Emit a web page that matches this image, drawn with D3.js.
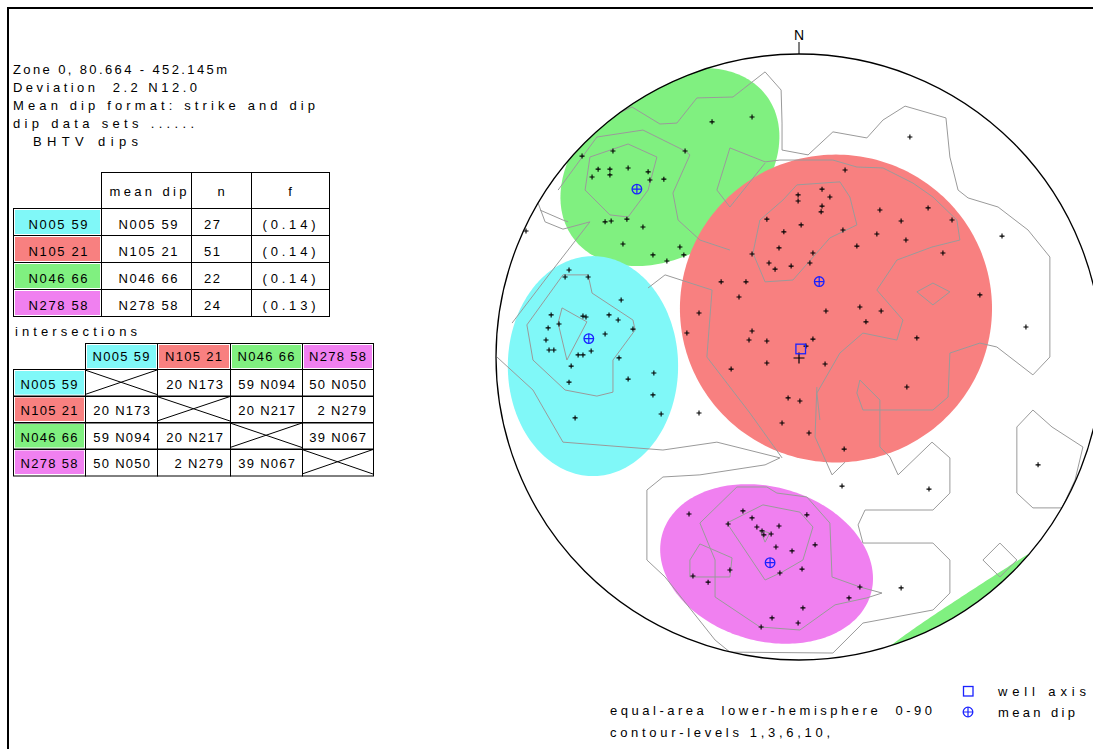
<!DOCTYPE html>
<html>
<head>
<meta charset="utf-8">
<script src="https://cdn.jsdelivr.net/npm/d3@7"></script>
<style>
  html, body { margin: 0; padding: 0; background: #fff; }
  svg { display: block; }
  text { font-family: "Liberation Sans", Arial, sans-serif; font-size: 13px; fill: #000; white-space: pre; }
</style>
</head>
<body>
<svg id="chart" width="1093" height="749"></svg>
<script>
// ---------------- data ----------------
const headerLines = ["Zone 0, 80.664 - 452.145m", "Deviation  2.2 N12.0", "Mean dip format: strike and dip", "dip data sets ......", "BHTV dips"];

const setLabels = ["N005 59", "N105 21", "N046 66", "N278 58"];
const setStrikes = [5, 105, 46, 278];
const setDips = [59, 21, 66, 58];
const setCounts = [27, 51, 22, 24];
const setFractions = ["(0.14)", "(0.14)", "(0.14)", "(0.13)"];

const intersections = [
  [null, "20 N173", "59 N094", "50 N050"],
  ["20 N173", null, "20 N217", "2 N279"],
  ["59 N094", "20 N217", null, "39 N067"],
  ["50 N050", "2 N279", "39 N067", null]
];

const wellInclination = 2.2;
const wellAzimuth = 12.0;
const contourLevels = [1, 3, 6, 10];

// cluster envelopes per set: [east, north, semi-axis 1, semi-axis 2, rotation deg], in net radii
const setEnvelopes = [
  [-0.680, -0.030, 0.281, 0.363, 0],
  [0.122, 0.160, 0.515, 0.508, 0],
  [-0.426, 0.627, 0.396, 0.284, 36],
  [-0.107, -0.683, 0.358, 0.254, -16]
];

// poles to planes, equal-area lower hemisphere, [east, north] in net radii
const poles = [
  [-0.287,0.776],[-0.155,0.792],[-0.614,0.680],[-0.716,0.663],[-0.663,0.620],[-0.624,0.620],[-0.564,0.624],[-0.498,0.611],
  [-0.683,0.594],[-0.624,0.601],[-0.492,0.584],[-0.446,0.587],[-0.640,0.446],[-0.620,0.449],[-0.568,0.455],[-0.515,0.429],
  [-0.581,0.373],[-0.393,0.363],[-0.482,0.337],[-0.436,0.317],[-0.380,0.337],[-0.376,0.680],[-0.901,0.416],
  [0.152,0.617],[-0.003,0.535],[-0.003,0.515],[0.076,0.554],[0.102,0.528],[0.076,0.498],[0.073,0.479],[0.267,0.485],
  [0.426,0.492],[0.337,0.449],[0.505,0.452],[-0.106,0.455],[-0.050,0.413],[0.007,0.436],[0.145,0.419],[0.257,0.406],
  [0.353,0.386],[0.191,0.366],[-0.066,0.360],[-0.155,0.340],[0.046,0.343],[-0.099,0.310],[-0.079,0.290],[-0.026,0.300],
  [0.036,0.310],[0.475,0.343],[-0.257,0.248],[-0.175,0.248],[-0.198,0.198],[-0.330,0.145],[0.089,0.152],[0.201,0.165],
  [0.271,0.152],[0.221,0.116],[-0.370,0.079],[-0.155,0.086],[-0.165,0.056],[-0.106,0.053],[0.046,0.059],[0.023,0.036],
  [-0.106,-0.020],[0.086,-0.023],[-0.224,-0.040],[-0.036,-0.135],[0.003,-0.145],[0.389,0.063],[0.356,-0.099],[0.597,0.205],
  [-0.056,-0.218],[0.033,-0.251],[0.149,-0.304],
  [0.366,0.726],[0.670,0.399],[0.749,0.099],[0.789,-0.356],[-0.330,-0.185],[0.142,-0.426],[0.429,-0.436],[0.337,-0.762],
  [-0.759,0.287],[-0.772,0.264],[-0.696,0.264],[-0.587,0.188],[-0.818,0.139],[-0.713,0.135],[-0.703,0.132],[-0.627,0.139],
  [-0.597,0.122],[-0.792,0.109],[-0.828,0.096],[-0.548,0.092],[-0.640,0.076],[-0.835,0.056],[-0.825,0.023],[-0.809,0.023],
  [-0.686,0.020],[-0.729,0.007],[-0.713,0.007],[-0.594,-0.003],[-0.752,-0.030],[-0.479,-0.053],[-0.564,-0.073],[-0.759,-0.083],
  [-0.482,-0.125],[-0.739,-0.201],[-0.455,-0.188],
  [-0.363,-0.518],[-0.185,-0.508],[-0.155,-0.531],[0.026,-0.521],[-0.234,-0.551],[-0.139,-0.561],[-0.066,-0.558],[-0.122,-0.574],
  [-0.116,-0.587],[-0.092,-0.584],[-0.076,-0.627],[-0.023,-0.640],[0.053,-0.620],[-0.228,-0.703],[-0.063,-0.713],[0.010,-0.700],
  [-0.350,-0.723],[-0.300,-0.743],[0.201,-0.759],[0.165,-0.795],[0.013,-0.828],[-0.089,-0.861],[-0.003,-0.878],[-0.125,-0.891]
];

// density contour lines (open), net radii
const contourOpen = [
  [[-0.601,0.802],[-0.551,0.825],[-0.459,0.769],[-0.403,0.772],[-0.337,0.855],[-0.218,0.858],[-0.112,0.941],[-0.059,0.881],
   [-0.056,0.772],[-0.056,0.683],[0.030,0.667],[0.112,0.743],[0.224,0.723],[0.277,0.782],[0.350,0.828],[0.485,0.789],
   [0.498,0.660],[0.525,0.551],[0.558,0.525],[0.657,0.495],[0.756,0.419],[0.828,0.330],[0.828,0.000],[0.772,-0.059],
   [0.653,0.033],[0.597,0.046],[0.498,0.013],[0.492,-0.132],[0.442,-0.175],[0.211,-0.175],[0.191,-0.119],[0.201,-0.076]],
  [[-0.795,0.551],[-0.667,0.726],[-0.515,0.749],[-0.376,0.680],[-0.360,0.667],[-0.416,0.541],[-0.399,0.452],[-0.327,0.386],[-0.228,0.353]],
  [[-0.112,0.640],[-0.228,0.495],[-0.271,0.551],[-0.228,0.690],[-0.112,0.644],[-0.063,0.650],[0.112,0.650],[0.191,0.627],
   [0.277,0.624],[0.376,0.574],[0.442,0.528],[0.521,0.452],[0.531,0.386],[0.439,0.363],[0.323,0.320],[0.257,0.221],
   [0.343,0.122],[0.323,0.056],[0.211,0.079],[0.135,0.013],[0.059,-0.119],[0.069,-0.208]],
  [[-0.498,0.228],[-0.442,0.271],[-0.287,0.221],[-0.304,0.000],[-0.162,-0.185],[-0.056,-0.333]],
  [[-0.997,0.000],[-0.878,-0.109],[-0.779,-0.281],[-0.449,-0.307],[-0.271,-0.281],[-0.063,-0.333],[-0.112,-0.356],[-0.327,-0.389],
   [-0.449,-0.396],[-0.502,-0.439],[-0.502,-0.670],[-0.442,-0.726],[-0.277,-0.934],[-0.228,-0.974],[0.112,-0.977],[0.211,-0.878],
   [0.442,-0.835],[0.498,-0.779],[0.498,-0.670],[0.442,-0.614],[0.211,-0.614],[0.195,-0.554],[0.218,-0.505],[0.442,-0.505],
   [0.498,-0.449],[0.498,-0.333],[0.439,-0.281],[0.327,-0.389],[0.300,-0.330],[0.267,-0.297],[0.267,-0.142],[0.201,-0.076]],
  [[0.059,-0.099],[0.053,-0.264],[0.109,-0.389],[0.152,-0.347]],
  [[-0.861,0.508],[-0.838,0.446],[-0.779,0.422],[-0.690,0.446],[-0.818,0.281],[-0.947,0.112]],
  [[-0.855,0.485],[-0.779,0.452],[-0.762,0.446]]
];

// density contour lines (closed), net radii
const contourClosed = [
  [[-0.690,0.660],[-0.564,0.703],[-0.469,0.660],[-0.498,0.551],[-0.564,0.462],[-0.624,0.469],[-0.706,0.551]],
  [[-0.152,0.343],[-0.112,0.248],[-0.020,0.254],[0.102,0.393],[0.191,0.436],[0.168,0.528],[0.135,0.578],[-0.007,0.568],[-0.053,0.518],[-0.129,0.452]],
  [[0.389,0.215],[0.442,0.244],[0.498,0.215],[0.442,0.172]],
  [[-0.779,0.271],[-0.696,0.271],[-0.683,0.211],[-0.548,0.122],[-0.541,0.089],[-0.614,-0.010],[-0.614,-0.116],[-0.667,-0.129],[-0.772,-0.109],[-0.878,-0.010],[-0.898,0.106]],
  [[-0.782,0.162],[-0.700,0.116],[-0.766,-0.010],[-0.795,0.112]],
  [[0.719,-0.231],[0.772,-0.175],[0.835,-0.231],[0.937,-0.297],[0.911,-0.406],[0.868,-0.498],[0.772,-0.498],[0.719,-0.449]],
  [[0.607,-0.670],[0.663,-0.614],[0.719,-0.670],[0.663,-0.726]],
  [[-0.327,-0.548],[-0.205,-0.429],[-0.106,-0.429],[-0.073,-0.449],[0.026,-0.462],[0.102,-0.548],[0.109,-0.726],[0.201,-0.759],
   [0.274,-0.779],[0.224,-0.795],[0.119,-0.818],[0.003,-0.901],[-0.129,-0.891],[-0.277,-0.792],[-0.277,-0.670]],
  [[-0.238,-0.548],[-0.119,-0.488],[0.003,-0.512],[0.046,-0.561],[0.013,-0.670],[-0.056,-0.710],[-0.112,-0.736]],
  [[-0.129,-0.571],[-0.096,-0.581],[-0.112,-0.611]],
  [[-0.360,-0.670],[-0.327,-0.617],[-0.221,-0.663],[-0.228,-0.726],[-0.360,-0.726]]
];

// ---------------- styles / layout ----------------
const setColors = ["#80f8f8", "#f88080", "#80f080", "#f080f0"];
const symbolBlue = "#1a22ff";
const contourGray = "#9a9a9a";

const svg = d3.select("#chart");

function txt(g, x, y, s, opts = {}) {
  const t = g.append("text").attr("x", x).attr("y", y).text(s);
  if (opts.anchor) t.attr("text-anchor", opts.anchor);
  if (opts.width) t.attr("textLength", opts.width).attr("lengthAdjust", "spacing");
  if (opts.size) t.style("font-size", opts.size + "px");
  return t;
}
const px = v => Math.round(v) + 0.5;

// frame
svg.append("path").attr("d", "M8,749V8H1093").attr("fill", "none").attr("stroke", "#000").attr("stroke-width", 2);

// header text
const hdrWidths = [214, 184, 302, 181, 105];
const hdrX = [13, 13, 13, 13, 33];
headerLines.forEach((s, i) => txt(svg, hdrX[i], 74 + i * 18, s, { width: hdrWidths[i] }));

// ---------------- mean dip table ----------------
const t1 = svg.append("g");
const t1Cols = [13, 101, 191, 251, 329];
const t1HeadTop = 172, t1Top = 208, t1RowH = 27;
const cellLine = (g, x1, y1, x2, y2) => g.append("line").attr("x1", x1).attr("y1", y1).attr("x2", x2).attr("y2", y2).attr("stroke", "#000").attr("stroke-width", 1);

for (let c = 1; c < 4; c++) {
  t1.append("rect").attr("x", px(t1Cols[c])).attr("y", px(t1HeadTop)).attr("width", t1Cols[c + 1] - t1Cols[c]).attr("height", t1Top - t1HeadTop)
    .attr("fill", "none").attr("stroke", "#000");
}
txt(t1, (t1Cols[1] + t1Cols[2]) / 2 + 2, 196, "mean dip", { anchor: "middle", width: 77 });
txt(t1, (t1Cols[2] + t1Cols[3]) / 2, 196, "n", { anchor: "middle" });
txt(t1, (t1Cols[3] + t1Cols[4]) / 2, 196, "f", { anchor: "middle" });

setLabels.forEach((lab, r) => {
  const y0 = t1Top + r * t1RowH;
  for (let c = 0; c < 4; c++) {
    t1.append("rect").attr("x", px(t1Cols[c])).attr("y", px(y0)).attr("width", t1Cols[c + 1] - t1Cols[c]).attr("height", t1RowH)
      .attr("fill", "none").attr("stroke", "#000");
  }
  t1.append("rect").attr("x", t1Cols[0] + 2).attr("y", y0 + 2).attr("width", t1Cols[1] - t1Cols[0] - 3).attr("height", t1RowH - 3)
    .attr("fill", setColors[r]);
  const base = y0 + 21;
  txt(t1, (t1Cols[0] + t1Cols[1]) / 2 + 1, base, lab, { anchor: "middle", width: 59 });
  txt(t1, (t1Cols[1] + t1Cols[2]) / 2 + 2, base, `N${String(setStrikes[r]).padStart(3, "0")} ${setDips[r]}`, { anchor: "middle", width: 59 });
  txt(t1, t1Cols[2] + 13, base, String(setCounts[r]), { width: 16 });
  txt(t1, (t1Cols[3] + t1Cols[4]) / 2 - 1, base, setFractions[r], { anchor: "middle", width: 53 });
});

// ---------------- intersections table ----------------
const t2 = svg.append("g");
txt(t2, 15, 336, "intersections", { width: 122 });
const t2Cols = [13, 85, 157, 230, 302, 373];
const t2HeadTop = 343, t2Top = 369, t2RowH = 26.5;

for (let c = 1; c <= 4; c++) {
  const x0 = t2Cols[c], w = t2Cols[c + 1] - x0;
  t2.append("rect").attr("x", px(x0)).attr("y", px(t2HeadTop)).attr("width", w).attr("height", t2Top - t2HeadTop).attr("fill", "none").attr("stroke", "#000");
  t2.append("rect").attr("x", x0 + 2).attr("y", t2HeadTop + 2).attr("width", w - 3).attr("height", t2Top - t2HeadTop - 3).attr("fill", setColors[c - 1]);
  txt(t2, x0 + w / 2, t2HeadTop + 18, setLabels[c - 1], { anchor: "middle", width: 57 });
}
intersections.forEach((row, r) => {
  const y0 = t2Top + r * t2RowH;
  for (let c = 0; c <= 4; c++) {
    t2.append("rect").attr("x", px(t2Cols[c])).attr("y", px(y0)).attr("width", t2Cols[c + 1] - t2Cols[c]).attr("height", t2RowH)
      .attr("fill", "none").attr("stroke", "#000");
  }
  t2.append("rect").attr("x", t2Cols[0] + 2).attr("y", y0 + 2).attr("width", t2Cols[1] - t2Cols[0] - 3).attr("height", t2RowH - 3)
    .attr("fill", setColors[r]);
  const base = y0 + 19.5;
  txt(t2, (t2Cols[0] + t2Cols[1]) / 2, base, setLabels[r], { anchor: "middle", width: 57 });
  row.forEach((v, c) => {
    const x0 = t2Cols[c + 1], x1 = t2Cols[c + 2];
    if (v === null) {
      cellLine(t2, x0, y0 + 1, x1, y0 + t2RowH - 1);
      cellLine(t2, x0, y0 + t2RowH - 1, x1, y0 + 1);
    } else {
      txt(t2, x1 - 7, base, v, { anchor: "end", width: v.length * 8.1 });
    }
  });
});

// ---------------- stereonet ----------------
const cx = 799, cy = 357, R = 303;
const xs = d3.scaleLinear().domain([-1, 1]).range([cx - R, cx + R]);
const ys = d3.scaleLinear().domain([-1, 1]).range([cy + R, cy - R]);
const toRad = Math.PI / 180;

// equal-area lower-hemisphere projection of a line (trend, plunge)
function projectLine(trend, plunge) {
  const rho = Math.SQRT2 * Math.sin((90 - plunge) * toRad / 2);
  return [rho * Math.sin(trend * toRad), rho * Math.cos(trend * toRad)];
}
// pole of a plane given strike / dip (right-hand rule)
const planePole = (strike, dip) => projectLine((strike + 270) % 360, 90 - dip);

const net = svg.append("g");
const defs = svg.append("defs");
defs.append("clipPath").attr("id", "netClip").append("circle").attr("cx", cx).attr("cy", cy).attr("r", R);

const line = d3.line().x(d => xs(d[0])).y(d => ys(d[1]));
const closedLine = d3.line().x(d => xs(d[0])).y(d => ys(d[1])).curve(d3.curveLinearClosed);

function envelope([ex, ny, a, b, rot]) {
  const r = rot * toRad, pts = [];
  for (let i = 0; i < 240; i++) {
    const t = i / 240 * 2 * Math.PI;
    const u = a * Math.cos(t), v = b * Math.sin(t);
    pts.push([ex + u * Math.cos(r) - v * Math.sin(r), ny + u * Math.sin(r) + v * Math.cos(r)]);
  }
  return pts;
}
// part of an envelope above the horizontal, folded back onto the lower hemisphere
function foldedPart(pts) {
  return pts.map(([x, y]) => {
    const r = Math.hypot(x, y);
    const rr = r > 1 ? Math.sqrt(Math.max(0, 2 - r * r)) : 1;
    return [-x / r * rr, -y / r * rr];
  });
}

const fills = net.append("g").attr("clip-path", "url(#netClip)");
[2, 0, 1, 3].forEach(i => {
  const pts = envelope(setEnvelopes[i]);
  fills.append("path").attr("d", closedLine(pts)).attr("fill", setColors[i]);
  if (pts.some(p => Math.hypot(p[0], p[1]) > 1)) {
    fills.append("path").attr("d", closedLine(foldedPart(pts))).attr("fill", setColors[i]);
  }
});

// contours
const cg = net.append("g").attr("clip-path", "url(#netClip)").attr("fill", "none").attr("stroke", contourGray).attr("stroke-width", 1);
contourOpen.forEach(p => cg.append("path").attr("d", line(p)));
contourClosed.forEach(p => cg.append("path").attr("d", closedLine(p)));

// poles
const pg = net.append("g").attr("stroke", "#000").attr("stroke-width", 1.1);
poles.forEach(([e, n]) => {
  const x = xs(e), y = ys(n);
  pg.append("path").attr("d", `M${x - 2.5},${y}H${x + 2.5}M${x},${y - 2.5}V${y + 2.5}`);
});

// mean dip symbols
function meanDipSymbol(g, x, y) {
  g.append("circle").attr("cx", x).attr("cy", y).attr("r", 4.8).attr("fill", "none").attr("stroke", symbolBlue).attr("stroke-width", 1.3);
  g.append("path").attr("d", `M${x - 4.8},${y}H${x + 4.8}M${x},${y - 4.8}V${y + 4.8}`).attr("stroke", symbolBlue).attr("stroke-width", 1.2);
}
setStrikes.forEach((s, i) => {
  const [e, n] = planePole(s, setDips[i]);
  meanDipSymbol(net, xs(e), ys(n));
});

// vertical reference and well axis
net.append("path").attr("d", `M${xs(0) - 5.5},${ys(0) + 1}H${xs(0) + 5.5}M${xs(0)},${ys(0) - 4.5}V${ys(0) + 6.5}`)
  .attr("stroke", "#000").attr("stroke-width", 1.2);
const [we, wn] = projectLine(wellAzimuth, 90 - wellInclination);
net.append("rect").attr("x", xs(we) - 4.8).attr("y", ys(wn) - 4.8).attr("width", 9.6).attr("height", 9.6)
  .attr("fill", "none").attr("stroke", symbolBlue).attr("stroke-width", 1.3);

// primitive and north mark
net.append("circle").attr("cx", cx).attr("cy", cy).attr("r", R).attr("fill", "none").attr("stroke", "#000").attr("stroke-width", 1.3);
net.append("line").attr("x1", xs(0)).attr("x2", xs(0)).attr("y1", ys(1) - 12).attr("y2", ys(1)).attr("stroke", "#000").attr("stroke-width", 1);
txt(net, xs(0), ys(1) - 14, "N", { anchor: "middle", size: 14 });

// legend and notes
const lg = svg.append("g");
lg.append("rect").attr("x", 963.5).attr("y", 686.5).attr("width", 9.5).attr("height", 9.5).attr("fill", "none").attr("stroke", symbolBlue).attr("stroke-width", 1.3);
txt(lg, 998, 696, "well axis", { width: 88 });
meanDipSymbol(lg, 968, 712);
txt(lg, 998, 717, "mean dip", { width: 77 });
txt(lg, 610, 715, "equal-area  lower-hemisphere  0-90", { width: 322 });
txt(lg, 610, 737, "contour-levels " + contourLevels.join(",") + ",", { width: 220 });
</script>
</body>
</html>
